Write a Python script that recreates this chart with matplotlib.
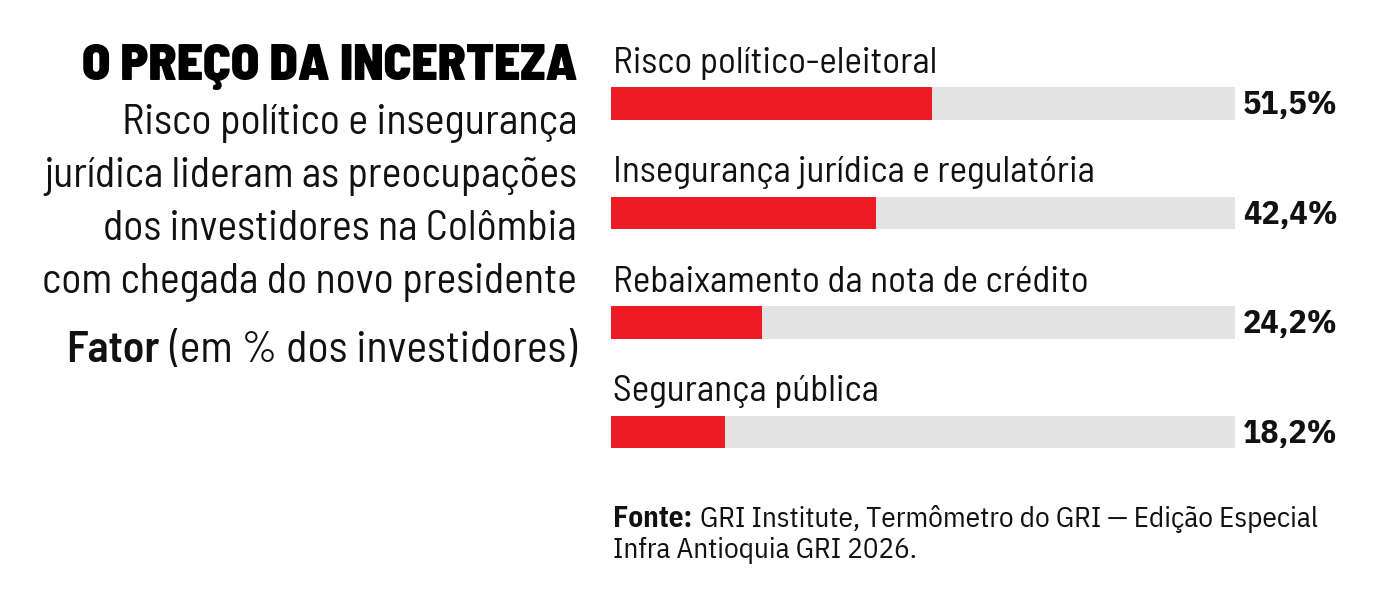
import matplotlib
matplotlib.use("Agg")
import matplotlib.pyplot as plt

# dados
fatores = ["Risco político-eleitoral",
           "Insegurança jurídica e regulatória",
           "Rebaixamento da nota de crédito",
           "Segurança pública"]
valores = [51.5, 42.4, 24.2, 18.2]
rotulos = ["51,5%", "42,4%", "24,2%", "18,2%"]

titulo = "O PREÇO DA INCERTEZA"
subtitulo = ["Risco político e insegurança",
             "jurídica lideram as preocupações",
             "dos investidores na Colômbia",
             "com chegada do novo presidente"]
fonte_txt = "GRI Institute, Termômetro do GRI — Edição Especial"
fonte_txt2 = "Infra Antioquia GRI 2026."

VERMELHO = "#ED1C24"
CINZA = "#E3E3E3"
PRETO = "#111111"
BARLOW = ["Barlow Semi Condensed", "DejaVu Sans"]
PLEX = ["IBM Plex Sans Condensed", "DejaVu Sans"]

W, H = 1380, 606
fig = plt.figure(figsize=(W / 100, H / 100), dpi=100)
fig.canvas.draw()
rend = fig.canvas.get_renderer()


def fx(x):
    return x / W


def fy(y):
    return 1 - y / H


def largura(t):
    return t.get_window_extent(renderer=rend).width


def ajusta(t, alvo):
    # ajusta o tamanho da fonte para a largura medida na referência
    t.set_fontsize(t.get_fontsize() * alvo / largura(t))


# bloco de texto à esquerda
t = fig.text(fx(577), fy(80), titulo, ha="right", va="baseline",
             fontsize=30, fontweight="black", family=BARLOW, color="black")
ajusta(t, 495)
larg_sub = [455, 532, 473, 534]
for i, linha in enumerate(subtitulo):
    t = fig.text(fx(577), fy(134 + 53 * i), linha, ha="right", va="baseline",
                 fontsize=26, family=BARLOW, color=PRETO)
    ajusta(t, larg_sub[i])
tam_sub = t.get_fontsize()
t1 = fig.text(fx(577), fy(362), "(em % dos investidores)", ha="right",
              va="baseline", fontsize=tam_sub * 1.05, family=BARLOW, color=PRETO)
x0 = t1.get_window_extent(renderer=rend).x0
fig.text((x0 - 9) / W, fy(362), "Fator", ha="right", va="baseline",
         fontsize=tam_sub * 1.05, fontweight="semibold", family=BARLOW, color=PRETO)

# barras
top, step = 48.75, 109.5
ax = fig.add_axes([fx(611), fy(top + 4 * step), fx(1235) - fx(611), 4 * step / H])
ys = range(len(valores))
ax.barh(ys, [100] * len(valores), height=0.30, color=CINZA)
ax.barh(ys, valores, height=0.30, color=VERMELHO)
ax.set_xlim(0, 100)
ax.set_ylim(3.5, -0.5)
ax.axis("off")
for i, (f, r) in enumerate(zip(fatores, rotulos)):
    t = ax.text(0.3, i - 0.28, f, ha="left", va="baseline", fontsize=23,
                family=BARLOW, color=PRETO, clip_on=False)
    if i == 1:
        ajusta(t, 481)
    t = ax.text(116.5, i + 0.10, r, ha="right", va="baseline", fontsize=24,
                fontweight="bold", family=PLEX, color=PRETO, clip_on=False)
    ajusta(t, 95)
tam_barra = ax.texts[2].get_fontsize()
for t in ax.texts[::2]:
    t.set_fontsize(tam_barra)

# fonte
f1 = fig.text(fx(613), fy(527), "Fonte:", ha="left", va="baseline",
              fontsize=17, fontweight="bold", family=PLEX, color=PRETO)
f2 = fig.text(fx(613), fy(527), fonte_txt, ha="left", va="baseline",
              fontsize=17, family=PLEX, color=PRETO)
escala = (1318 - 613 - 8) / (largura(f1) + largura(f2))
f1.set_fontsize(17 * escala)
f2.set_fontsize(17 * escala)
f2.set_x((f1.get_window_extent(renderer=rend).x1 + 8) / W)
fig.text(fx(613), fy(558), fonte_txt2, ha="left", va="baseline",
         fontsize=f2.get_fontsize(), family=PLEX, color=PRETO)

fig.savefig("out.png", dpi=100, facecolor="white")
